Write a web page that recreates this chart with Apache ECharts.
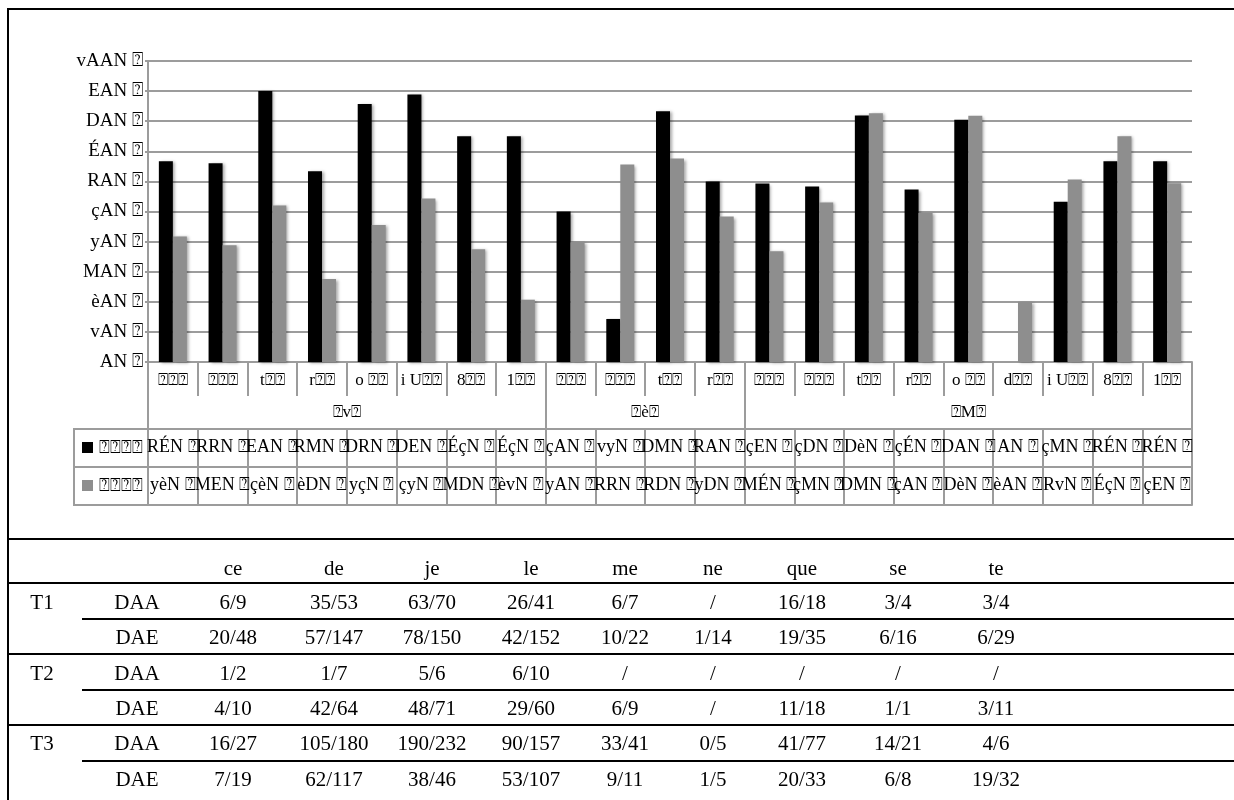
<!DOCTYPE html>
<html>
<head>
<meta charset="utf-8">
<script src="https://cdn.jsdelivr.net/npm/echarts@6/dist/echarts.min.js"></script>
<style>
html,body{margin:0;padding:0;background:#fff;}
#wrap{position:relative;width:1234px;height:800px;overflow:hidden;font-family:"Liberation Serif","Times New Roman",serif;}
#chart{position:absolute;left:0;top:0;width:1234px;height:540px;}
#tbl{position:absolute;left:0;top:0;width:1234px;height:800px;pointer-events:none;}
.ln{position:absolute;background:#000;height:2px;}
.vl{position:absolute;background:#000;width:2px;}
.tx{position:absolute;font-size:21px;line-height:24px;color:#000;white-space:nowrap;transform:translateX(-50%);}
</style>
</head>
<body>
<div id="wrap">
  <div id="chart"></div>
  <div id="tbl"></div>
</div>
<script>
// ---------- chart data ----------
const B = '\u2370';
const categories = [B+B+B, B+B+B, 't'+B+B, 'r'+B+B, 'o '+B+B, 'i U'+B+B, '8'+B+B, '1'+B+B,
                    B+B+B, B+B+B, 't'+B+B, 'r'+B+B,
                    B+B+B, B+B+B, 't'+B+B, 'r'+B+B, 'o '+B+B, 'd'+B+B, 'i U'+B+B, '8'+B+B, '1'+B+B];
const groupNames = [B+'v'+B, B+'\u00e8'+B, B+'M'+B];
const groupSizes = [8, 4, 9];
const blackValues = [66.7, 66.0, 90.0, 63.4, 85.7, 88.9, 75.0, 75.0,
                     50.0, 14.3, 83.3, 60.0,
                     59.3, 58.3, 81.9, 57.3, 80.5, 0, 53.2, 66.7, 66.7];
const greyValues  = [41.7, 38.8, 52.0, 27.6, 45.5, 54.3, 37.5, 20.7,
                     40.0, 65.6, 67.6, 48.3,
                     36.8, 53.0, 82.6, 49.5, 81.8, 20.0, 60.6, 75.0, 59.4];
const blackLabels = ['R\u00c9N','RRN','EAN','RMN','DRN','DEN','\u00c9\u00e7N','\u00c9\u00e7N',
                     '\u00e7AN','vyN','DMN','RAN',
                     '\u00e7EN','\u00e7DN','D\u00e8N','\u00e7\u00c9N','DAN','AN','\u00e7MN','R\u00c9N','R\u00c9N'];
const greyLabels  = ['y\u00e8N','MEN','\u00e7\u00e8N','\u00e8DN','y\u00e7N','\u00e7yN','MDN','\u00e8vN',
                     'yAN','RRN','RDN','yDN',
                     'M\u00c9N','\u00e7MN','DMN','\u00e7AN','D\u00e8N','\u00e8AN','RvN','\u00c9\u00e7N','\u00e7EN'];
const yTickLabels = ['AN','vAN','\u00e8AN','MAN','yAN','\u00e7AN','RAN','\u00c9AN','DAN','EAN','vAAN'];
const seriesName = B+B+B+B;

// ---------- table data ----------
const tableWords = ['ce','de','je','le','me','ne','que','se','te'];
const t1DAA = ['6/9','35/53','63/70','26/41','6/7','/','16/18','3/4','3/4'];
const t1DAE = ['20/48','57/147','78/150','42/152','10/22','1/14','19/35','6/16','6/29'];
const t2DAA = ['1/2','1/7','5/6','6/10','/','/','/','/','/'];
const t2DAE = ['4/10','42/64','48/71','29/60','6/9','/','11/18','1/1','3/11'];
const t3DAA = ['16/27','105/180','190/232','90/157','33/41','0/5','41/77','14/21','4/6'];
const t3DAE = ['7/19','62/117','38/46','53/107','9/11','1/5','20/33','6/8','19/32'];

// ---------- layout ----------
const FONT = '"Liberation Serif","Times New Roman",serif';
const GRID_L = 148, GRID_T = 61, GRID_H = 301, GRID_R = 42;
const GRAY = '#9c9c9c';

const groupTicks = [0];
groupSizes.forEach(s => groupTicks.push(groupTicks[groupTicks.length-1] + s));
const groupCenters = groupSizes.map((s,i) => groupTicks[i] + s/2);

const chart = echarts.init(document.getElementById('chart'), null, {renderer:'canvas'});
const baseCat = {
  type:'category', data:categories, gridIndex:0, position:'bottom', boundaryGap:true,
  splitLine:{show:false}
};
const option = {
  animation:false,
  backgroundColor:'#fff',
  grid:{left:GRID_L, top:GRID_T, height:GRID_H, right:GRID_R, containLabel:false},
  yAxis:{
    type:'value', min:0, max:100, interval:10,
    axisLine:{show:true, lineStyle:{color:GRAY, width:2}},
    axisTick:{show:true, length:3, lineStyle:{color:GRAY, width:2}},
    splitLine:{show:true, lineStyle:{color:GRAY, width:2}},
    axisLabel:{color:'#000', fontSize:19, fontFamily:FONT, margin:5,
      formatter:v => yTickLabels[Math.round(v/10)] + ' ' + B}
  },
  xAxis:[
    Object.assign({}, baseCat, {
      axisLine:{show:true, lineStyle:{color:GRAY, width:2}},
      axisTick:{show:true, interval:0, length:34, lineStyle:{color:GRAY, width:2}},
      axisLabel:{interval:0, margin:10, color:'#000', fontSize:17, fontFamily:FONT}
    }),
    {
      type:'value', min:0, max:categories.length, gridIndex:0, position:'bottom',
      splitLine:{show:false}, axisLine:{show:false},
      axisTick:{show:true, customValues:groupTicks, length:67, lineStyle:{color:GRAY, width:2}},
      axisLabel:{show:true, customValues:groupCenters, margin:42, color:'#000', fontSize:17, fontFamily:FONT,
        formatter:v => { const i = groupCenters.indexOf(v); return i >= 0 ? groupNames[i] : ''; }}
    },
    Object.assign({}, baseCat, {
      offset:67,
      axisLine:{show:true, lineStyle:{color:GRAY, width:2}},
      axisTick:{show:true, interval:0, length:76, lineStyle:{color:GRAY, width:2}},
      axisLabel:{interval:0, margin:9, color:'#000', fontSize:18, fontFamily:FONT,
        formatter:(v,i) => blackLabels[i] + ' ' + B}
    }),
    Object.assign({}, baseCat, {
      offset:105,
      axisLine:{show:true, lineStyle:{color:GRAY, width:2}},
      axisTick:{show:false},
      axisLabel:{interval:0, margin:9, color:'#000', fontSize:18, fontFamily:FONT,
        formatter:(v,i) => greyLabels[i] + ' ' + B}
    }),
    Object.assign({}, baseCat, {
      offset:143,
      axisLine:{show:true, lineStyle:{color:GRAY, width:2}},
      axisTick:{show:false}, axisLabel:{show:false}
    })
  ],
  series:[
    {name:seriesName, type:'bar', xAxisIndex:0, yAxisIndex:0, data:blackValues,
     barWidth:14, barGap:'0%',
     itemStyle:{color:'#000', shadowBlur:3, shadowColor:'rgba(0,0,0,0.35)', shadowOffsetX:2, shadowOffsetY:1}},
    {name:seriesName, type:'bar', xAxisIndex:0, yAxisIndex:0, data:greyValues,
     barWidth:14, barGap:'0%',
     itemStyle:{color:'#8e8e8e', shadowBlur:3, shadowColor:'rgba(0,0,0,0.35)', shadowOffsetX:2, shadowOffsetY:1}}
  ],
  graphic:[
    {type:'rect', shape:{x:8, y:9, width:1240, height:530}, style:{fill:null, stroke:'#000', lineWidth:2}, silent:true},
    {type:'rect', shape:{x:74, y:GRID_T+GRID_H+67, width:GRID_L-74, height:76}, style:{fill:null, stroke:GRAY, lineWidth:2}},
    {type:'line', shape:{x1:74, y1:GRID_T+GRID_H+105, x2:GRID_L, y2:GRID_T+GRID_H+105}, style:{stroke:GRAY, lineWidth:2}},
    {type:'rect', shape:{x:82, y:GRID_T+GRID_H+80, width:11, height:11}, style:{fill:'#000'}},
    {type:'rect', shape:{x:82, y:GRID_T+GRID_H+118, width:11, height:11}, style:{fill:'#8e8e8e'}},
    {type:'text', x:99, y:GRID_T+GRID_H+86, style:{text:seriesName, fontSize:18, fontFamily:FONT, fill:'#000', verticalAlign:'middle'}},
    {type:'text', x:99, y:GRID_T+GRID_H+124, style:{text:seriesName, fontSize:18, fontFamily:FONT, fill:'#000', verticalAlign:'middle'}}
  ]
};
chart.setOption(option);

// ---------- table below ----------
const tbl = document.getElementById('tbl');
function hline(x, y, w){ const d=document.createElement('div'); d.className='ln'; d.style.left=x+'px'; d.style.top=(y-1)+'px'; d.style.width=w+'px'; tbl.appendChild(d); }
function vline(x, y, h){ const d=document.createElement('div'); d.className='vl'; d.style.left=(x-1)+'px'; d.style.top=y+'px'; d.style.height=h+'px'; tbl.appendChild(d); }
function text(s, x, y){ const d=document.createElement('div'); d.className='tx'; d.textContent=s; d.style.left=x+'px'; d.style.top=(y-12)+'px'; tbl.appendChild(d); }

const colX = [233, 334, 432, 531, 625, 713, 802, 898, 996];
vline(8, 538, 262);
hline(8, 583, 1226);
hline(82, 619, 1152);
hline(8, 654, 1226);
hline(82, 690, 1152);
hline(8, 725, 1226);
hline(82, 761, 1152);

tableWords.forEach((w,i) => text(w, colX[i], 568));
const rows = [
  ['T1','DAA',t1DAA,602], [null,'DAE',t1DAE,637],
  ['T2','DAA',t2DAA,673], [null,'DAE',t2DAE,708],
  ['T3','DAA',t3DAA,743], [null,'DAE',t3DAE,779]
];
rows.forEach(r => {
  if (r[0]) text(r[0], 42, r[3]);
  text(r[1], 137, r[3]);
  r[2].forEach((v,i) => text(v, colX[i], r[3]));
});
</script>
</body>
</html>
